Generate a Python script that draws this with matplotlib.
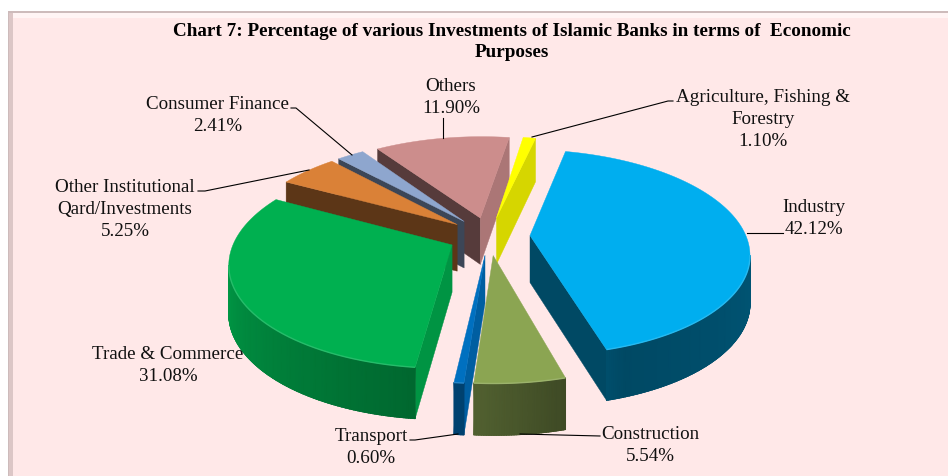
import numpy as np
import matplotlib
matplotlib.use('Agg')
import matplotlib.pyplot as plt
from matplotlib.colors import LinearSegmentedColormap
from matplotlib.patches import Polygon, Rectangle

# -------------------------------- data --------------------------------
labels = ['Agriculture, Fishing &\nForestry', 'Industry', 'Construction', 'Transport',
          'Trade & Commerce', 'Other Institutional\nQard/Investments', 'Consumer Finance', 'Others']
values = [1.10, 42.12, 5.54, 0.60, 31.08, 5.25, 2.41, 11.90]
tops = ['#FFFF00', '#00AEEF', '#8BA552', '#0070C0', '#00B050', '#DA8137', '#8EA6CE', '#CC8D8C']
title = 'Chart 7: Percentage of various Investments of Islamic Banks in terms of  Economic\nPurposes'

# label centre, then leader line in pixels
label_pos = [(763, 119.5), (814, 218.5), (650, 445.5), (371, 447.5), (168, 365.5), (125, 209.5), (218, 115.5), (451, 97.5)]
leaders = [[(673, 101), (668, 101), (532, 137)],
           [(783, 233), (747, 233)],
           [(600, 436), (520, 434)],
           [(410, 440), (415, 440), (458, 434)],
           [],
           [(198, 191), (205, 191), (309, 170)],
           [(291, 108), (296, 108), (352, 155)],
           [(443, 118), (443, 138)]]

# -------------------------------- pie geometry --------------------------------
cx, cy = 489, 236
R, qR = 216, 100   # horizontal and vertical radius of the disc
p = 0.163          # perspective
T = 47             # thickness
explode = 0.19
start = 8.8        # clockwise from 12 o'clock


def project(X, Y, down=False):
    s = 1 / (1 + p * Y)
    y = cy - qR * Y * s
    if down:
        y = y + T * s ** 0.45
    return cx + R * X * s, y


def shade(col, f):
    return tuple(np.array(matplotlib.colors.to_rgb(col)) * f)


def lighten(col, f):
    c = np.array(matplotlib.colors.to_rgb(col))
    return tuple(c + (1 - c) * f)


def area(pts):
    x, y = np.array(pts).T
    return 0.5 * np.sum(x * np.roll(y, -1) - np.roll(x, -1) * y)


def rim_factor(deg):
    return np.interp(deg % 360, [90, 160, 182, 190, 270, 360], [0.50, 0.42, 0.57, 0.60, 0.90, 0.90])


fig = plt.figure(figsize=(9.48, 4.76), dpi=100, facecolor='white')
ax = fig.add_axes([0, 0, 1, 1])
ax.set_xlim(0, 948)
ax.set_ylim(476, 0)
ax.axis('off')

# chart area with bevel
ax.add_patch(Rectangle((8, 11), 940, 465, fc='#CDBBBB', ec='none'))
ax.add_patch(Rectangle((9.5, 12.5), 939, 464, fc='#FFF4F4', ec='none'))
ax.add_patch(Rectangle((9.5, 12.5), 3.5, 464, fc='#DCC6C6', ec='none'))
ax.add_patch(Rectangle((13, 18), 935, 458, fc='#FFE8E8', ec='none'))

angles = start + np.cumsum([0] + values) * 3.6

# back to front
order = [7, 0, 6, 5, 4, 3, 2, 1]
for zo, i in enumerate(order):
    a, b = angles[i], angles[i + 1]
    mid = np.radians((a + b) / 2)
    ox, oy = explode * np.sin(mid), explode * np.cos(mid)
    th = np.radians(np.linspace(a, b, max(int(b - a) * 2, 4)))
    X, Y = ox + np.sin(th), oy + np.cos(th)
    col = tops[i]
    zo = zo + 2
    top = [project(ox, oy)] + [project(x, y) for x, y in zip(X, Y)]
    apex_t, apex_b = project(ox, oy), project(ox, oy, True)

    # end walls of the slice, lit when they look to the right
    q1 = [apex_t, apex_b, project(X[0], Y[0], True), project(X[0], Y[0])]
    q2 = [project(X[-1], Y[-1]), project(X[-1], Y[-1], True), apex_b, apex_t]
    for q, nx in ((q1, -np.cos(th[0])), (q2, np.cos(th[-1]))):
        if area(q) < 0:
            continue
        f = 0.84 if nx > 0 else 0.42
        ax.add_patch(Polygon(q, fc=shade(col, f), ec=shade(col, f), lw=0.3, zorder=zo))

    # outer wall, front part only, smooth shading
    vis = []
    for j in range(len(th) - 1):
        q = [project(X[j], Y[j]), project(X[j + 1], Y[j + 1]),
             project(X[j + 1], Y[j + 1], True), project(X[j], Y[j], True)]
        if area(q) < 0:
            vis.append(j)
    if vis:
        idx = vis + [vis[-1] + 1]
        xt, yt = np.array([project(X[j], Y[j]) for j in idx]).T
        xb, yb = np.array([project(X[j], Y[j], True) for j in idx]).T
        fac = rim_factor(np.degrees(th[idx]))
        cmap = LinearSegmentedColormap.from_list('wall', ['black', col])
        ax.pcolormesh(np.array([xt, xb]), np.array([yt, yb]), np.array([fac, fac]),
                      shading='gouraud', cmap=cmap, vmin=0, vmax=1, zorder=zo, rasterized=True)
        # soften the jagged mesh edge
        for k in range(len(idx) - 1):
            ax.plot(xb[k:k + 2], yb[k:k + 2], color=shade(col, fac[k]), lw=0.8, zorder=zo,
                    solid_capstyle='round')

    ax.add_patch(Polygon(top, fc=col, ec=col, lw=0.3, zorder=zo + 0.5))
    if vis:
        ax.plot(xt, yt, color=lighten(col, 0.15), lw=1.0, zorder=zo + 0.6, solid_capstyle='butt')

for i in range(len(values)):
    ax.text(label_pos[i][0], label_pos[i][1], '%s\n%.2f%%' % (labels[i], values[i]),
            ha='center', va='center', family='Liberation Serif', fontsize=13.7,
            color='#111111', linespacing=1.35, zorder=30)
    if leaders[i]:
        lx, ly = zip(*leaders[i])
        ax.plot(lx, ly, color='black', lw=0.8, zorder=29)

ax.text(512, 42, title, ha='center', va='center', family='Liberation Serif', fontsize=13.8,
        fontweight='bold', color='black', linespacing=1.32, zorder=30)

fig.savefig('out.png', dpi=100)
